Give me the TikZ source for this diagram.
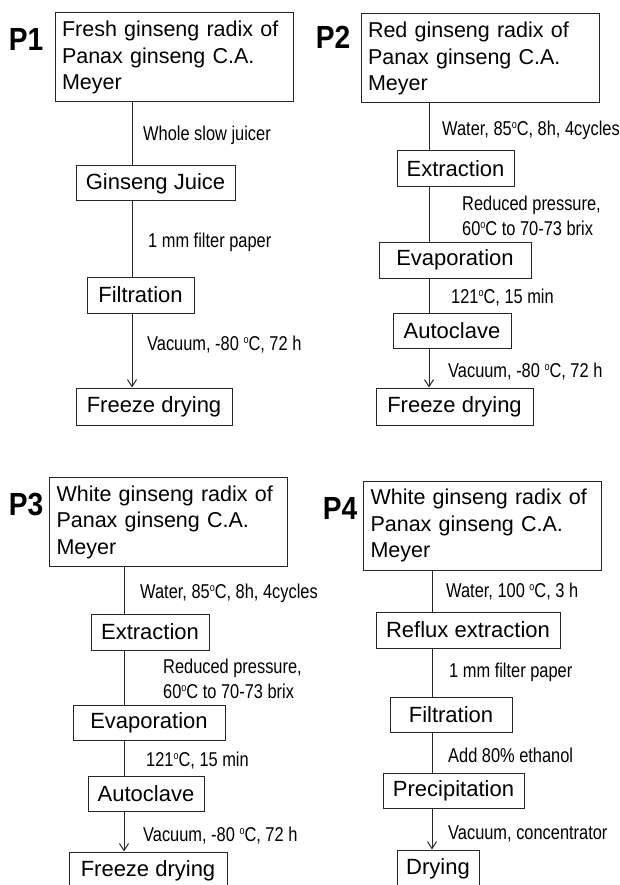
\documentclass[tikz,border=0pt]{standalone}
\usepackage{fontspec}
\setmainfont{Liberation Sans}
\newfontfamily\narrowfont[FakeStretch=0.82]{Liberation Sans}
\newfontfamily\tagfont[FakeStretch=0.88]{Liberation Sans}
\usetikzlibrary{arrows.meta}
\newcommand{\degc}{{\fontsize{11}{11}\selectfont\raisebox{7pt}{o}}C}
\begin{document}
\begin{tikzpicture}[x=1pt,y=-1pt,
    box/.style 2 args={draw=black!85,line width=1pt,inner sep=0pt,
        minimum width=#1,minimum height=#2,font=\fontsize{22}{26.5}\selectfont},
    src/.style={box={238}{89},inner xsep=7pt,text width=224pt,align=left,
        font=\fontsize{21.5}{26.5}\selectfont},
    note/.style={anchor=west,inner sep=0pt,align=left,
        font=\narrowfont\fontsize{20}{25}\selectfont},
    tag/.style={inner sep=0pt,font=\tagfont\bfseries\fontsize{32}{33}\selectfont},
    link/.style={draw=black!85,line width=1pt},
    last/.style={link,-{Straight Barb[length=7pt,width=9pt]}}]
    \useasboundingbox (0,0) rectangle (619,885);
    % P1
    \node[tag] (p1) at (26,39) {P1};
    \coordinate (s1) at (132,0);
    \node[src] (top1) at (174,57.5) {Fresh ginseng radix of\\Panax ginseng C.A.\\Meyer};
    \node[box={159}{35}] (juice1) at (155.5,183.5) {Ginseng Juice};
    \node[box={107}{36}] (filt1) at (140.5,295) {Filtration};
    \node[box={156}{37}] (fd1) at (154,406.5) {Freeze drying};
    \node[note] (n1a) at (143,135) {Whole slow juicer};
    \node[note] (n1b) at (148,242) {1 mm filter paper};
    \node[note] (n1c) at (147,345) {Vacuum, -80 \degc, 72 h};
    \draw[link] (top1.south -| s1) -- (juice1.north -| s1);
    \draw[link] (juice1.south -| s1) -- (filt1.north -| s1);
    \draw[last] (filt1.south -| s1) -- (fd1.north -| s1);
    % P2
    \node[tag] (p2) at (333,37) {P2};
    \coordinate (s2) at (429,0);
    \node[src] (top2) at (480,58.5) {Red ginseng radix of\\Panax ginseng C.A.\\Meyer};
    \node[box={117}{36}] (ext2) at (455.5,169) {Extraction};
    \node[box={152}{36}] (evap2) at (455,260) {Evaporation};
    \node[box={118}{35}] (auto2) at (452,330.5) {Autoclave};
    \node[box={157}{37}] (fd2) at (454.5,406.5) {Freeze drying};
    \node[note] (n2a) at (442,130) {Water, 85\degc, 8h, 4cycles};
    \node[note] (n2b) at (462,215.5) {Reduced pressure,\\60\degc{} to 70-73 brix};
    \node[note] (n2c) at (451,298) {121\degc, 15 min};
    \node[note] (n2d) at (448,372) {Vacuum, -80 \degc, 72 h};
    \draw[link] (top2.south -| s2) -- (ext2.north -| s2);
    \draw[link] (ext2.south -| s2) -- (evap2.north -| s2);
    \draw[link] (evap2.south -| s2) -- (auto2.north -| s2);
    \draw[last] (auto2.south -| s2) -- (fd2.north -| s2);
    % P3
    \node[tag] (p3) at (26,505) {P3};
    \coordinate (s3) at (124,0);
    \node[src] (top3) at (168.5,522) {White ginseng radix of\\Panax ginseng C.A.\\Meyer};
    \node[box={118}{36}] (ext3) at (150,632) {Extraction};
    \node[box={152}{35}] (evap3) at (149,723) {Evaporation};
    \node[box={116}{35}] (auto3) at (146,793.5) {Autoclave};
    \node[box={158}{37}] (fd3) at (148,870.5) {Freeze drying};
    \node[note] (n3a) at (140,593) {Water, 85\degc, 8h, 4cycles};
    \node[note] (n3b) at (163,679) {Reduced pressure,\\60\degc{} to 70-73 brix};
    \node[note] (n3c) at (146,761) {121\degc, 15 min};
    \node[note] (n3d) at (143,836) {Vacuum, -80 \degc, 72 h};
    \draw[link] (top3.south -| s3) -- (ext3.north -| s3);
    \draw[link] (ext3.south -| s3) -- (evap3.north -| s3);
    \draw[link] (evap3.south -| s3) -- (auto3.north -| s3);
    \draw[last] (auto3.south -| s3) -- (fd3.north -| s3);
    % P4
    \node[tag] (p4) at (340,508) {P4};
    \coordinate (s4) at (432,0);
    \node[src] (top4) at (482.5,525.5) {White ginseng radix of\\Panax ginseng C.A.\\Meyer};
    \node[box={184}{36}] (reflux4) at (468,630) {Reflux extraction};
    \node[box={122}{35}] (filt4) at (451,714.5) {Filtration};
    \node[box={141}{35}] (prec4) at (453.5,790.5) {Precipitation};
    \node[box={82}{37}] (dry4) at (438,868.5) {Drying};
    \node[note] (n4a) at (446,592) {Water, 100 \degc, 3 h};
    \node[note] (n4b) at (449,672) {1 mm filter paper};
    \node[note] (n4c) at (448,755) {Add 80\% ethanol};
    \node[note] (n4d) at (448,834) {Vacuum, concentrator};
    \draw[link] (top4.south -| s4) -- (reflux4.north -| s4);
    \draw[link] (reflux4.south -| s4) -- (filt4.north -| s4);
    \draw[link] (filt4.south -| s4) -- (prec4.north -| s4);
    \draw[last] (prec4.south -| s4) -- (dry4.north -| s4);
\end{tikzpicture}
\end{document}
